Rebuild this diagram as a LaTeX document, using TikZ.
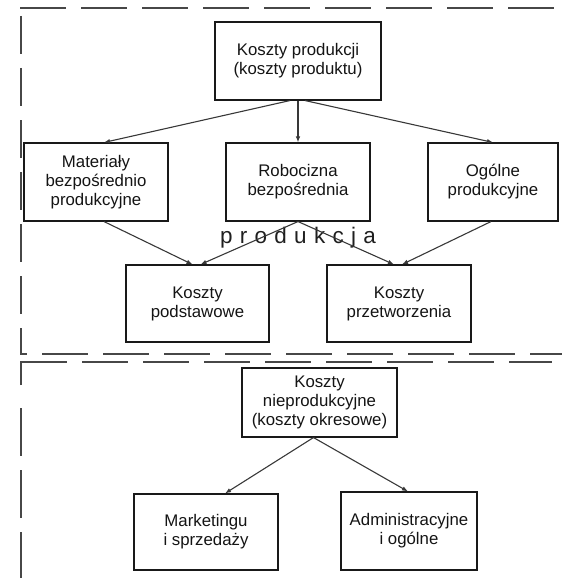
\documentclass[tikz,border=0pt]{standalone}
\usepackage{fontspec}
\setmainfont{Liberation Sans}
\usetikzlibrary{calc,arrows.meta}

\tikzset{
  box/.style={draw=black!90, line width=1.1pt, align=center, inner sep=2pt,
              font=\fontsize{16.8}{19}\selectfont, text=black!92},
  link/.style={draw=black!78, line width=1.1pt,
               -{Latex[length=6pt,width=4.5pt]}},
  frame/.style={draw=black!72, line width=1.3pt},
  framedash/.style={frame, dash pattern=on 46pt off 15pt},
}

\begin{document}
\begin{tikzpicture}[x=1pt,y=-1pt]
  \useasboundingbox (0,0) rectangle (562,578);

  % --- dashed frames of the two cost groups ---
  \draw[framedash] (20,8) -- (562,8);
  \draw[frame, dash pattern=on 38pt off 14pt] (21,16) -- (21,330);
  \draw[frame] (21,330) -- (21,354) -- (27,354);
  \draw[framedash] (42,354) -- (562,354);
  \draw[frame] (21,385) -- (21,362) -- (67,362);
  \draw[framedash] (82,362) -- (552,362);
  \draw[frame, dash pattern=on 48pt off 14pt] (21,408) -- (21,578);

  % --- production costs ---
  \node[box, minimum width=166pt, minimum height=78pt] (prod) at (298,61)
    {Koszty produkcji\\(koszty produktu)};
  \node[box, minimum width=144pt, minimum height=78pt] (mat) at (96,182)
    {Materiały\\bezpośrednio\\produkcyjne};
  \node[box, minimum width=144pt, minimum height=78pt] (rob) at (298,182)
    {Robocizna\\bezpośrednia};
  \node[box, minimum width=130pt, minimum height=78pt] (ogo) at (493,182)
    {Ogólne\\produkcyjne};
  \node[box, minimum width=143pt, minimum height=77pt] (pod) at (197.5,303.5)
    {Koszty\\podstawowe};
  \node[box, minimum width=144pt, minimum height=77pt] (prz) at (399,303.5)
    {Koszty\\przetworzenia};

  \node[font=\fontsize{22.5}{24}\selectfont, text=black!88, inner sep=0pt] (lbl) at (298,238)
    {p\kern7.3pt r\kern7.3pt o\kern7.3pt d\kern7.3pt u\kern7.3pt k\kern7.3pt c\kern7.3pt j\kern7.3pt a};

  \draw[link] ($(prod.south)+(-8,0)$) -- ($(mat.north)+(8,0)$);
  \draw[link] (prod.south) -- (rob.north);
  \draw[link] ($(prod.south)+(7,0)$) -- (ogo.north);

  \draw[link] ($(mat.south)+(8,0)$) -- ($(pod.north)+(-5,0)$);
  \draw[link] (rob.south) -- ($(pod.north)+(3,0)$);
  \draw[link] (rob.south) -- ($(prz.north)+(-5,0)$);
  \draw[link] ($(ogo.south)+(-2,0)$) -- ($(prz.north)+(3,0)$);

  % --- non-production costs ---
  \node[box, minimum width=155pt, minimum height=69pt] (nie) at (319.5,402.5)
    {Koszty\\nieprodukcyjne\\(koszty okresowe)};
  \node[box, minimum width=144pt, minimum height=76pt] (mar) at (206,532)
    {Marketingu\\i sprzedaży};
  \node[box, minimum width=136pt, minimum height=78pt] (adm) at (409,531)
    {Administracyjne\\i ogólne};

  \draw[link] ($(nie.south)+(-6,0)$) -- ($(mar.north)+(19,0)$);
  \draw[link] ($(nie.south)+(-6,0)$) -- ($(adm.north)+(-1,0)$);
\end{tikzpicture}
\end{document}
